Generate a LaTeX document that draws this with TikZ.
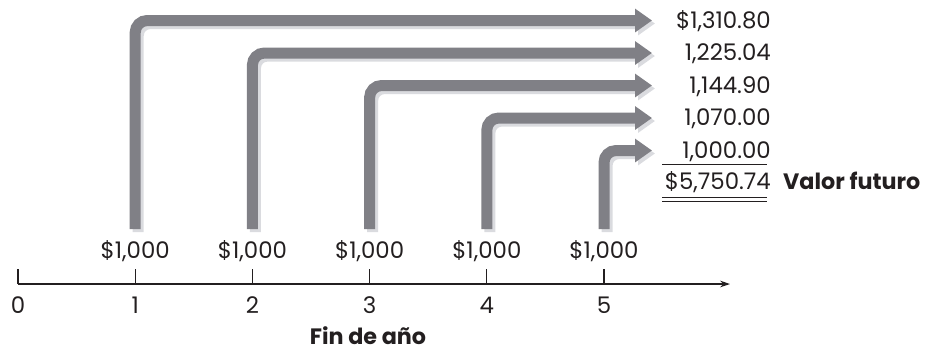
\documentclass[tikz,border=0pt]{standalone}
\usepackage{fontspec}
\setmainfont{Poppins}
\usetikzlibrary{arrows.meta}
\definecolor{flowgray}{RGB}{128,128,134}
\definecolor{shadegray}{RGB}{218,219,223}
\definecolor{ink}{RGB}{35,31,32}

\begin{document}
\begin{tikzpicture}[x=0.03cm,y=-0.03cm,
  txt/.style={inner sep=0pt,text=ink,font=\fontsize{19.5}{23}\selectfont},
  bold/.style={txt,font=\fontsize{19}{22}\selectfont\bfseries},
  flow/.style={draw=flowgray,line width=0.33cm,rounded corners=0.36cm,
    -{Triangle[length=0.51cm,width=0.68cm]}},
  shade/.style={flow,draw=shadegray,transform canvas={xshift=0.09cm,yshift=-0.09cm}},
  axis/.style={draw=ink,line width=0.036cm}]

\useasboundingbox (0,0) rectangle (937,350);

% Draw the time line with its ticks
\draw[axis,-{Stealth[length=0.3cm,width=0.2cm]}] (18,284) coordinate (t0) -- (730,284) coordinate (tend);
\foreach \i in {0,...,5}{
  \pgfmathsetmacro{\x}{18+117.2*\i}
  \coordinate (t\i) at (\x,284);
  \draw[axis] (t\i) -- ++(0,-15);
  \node[txt,anchor=base] (n\i) at (\x,313) {\i};
}
\node[bold,anchor=base] (axislabel) at (368,344) {Fin de año};

% Draw the payments
\foreach \i in {1,...,5}{
  \pgfmathsetmacro{\x}{18+117.2*\i}
  \node[txt,anchor=base] (c\i) at (\x,258) {\$1,000};
  \coordinate (s\i) at (\x,229);
}

% Draw the compounded values
\foreach \i/\val in {1/{\$1,310.80},2/{1,225.04},3/{1,144.90},4/{1,070.00},5/{1,000.00}}{
  \pgfmathsetmacro{\y}{28+32.5*(\i-1)}
  \node[txt,anchor=base east] (v\i) at (771,\y) {\val};
  \coordinate (r\i) at (652,\y-7.5);
}
\node[txt,anchor=base east] (sum) at (771,189) {\$5,750.74};
\node[bold,anchor=base west] (fv) at (783,189) {Valor futuro};

% Draw the totals lines
\draw[ink,line width=0.03cm] (662,164) -- (767,164);
\draw[ink,line width=0.03cm] (662,197) -- (767,197);
\draw[ink,line width=0.03cm] (662,201) -- (767,201);

% Draw the arrows
\foreach \i in {1,...,5}{
  \draw[shade] (s\i) |- (r\i);
  \draw[flow] (s\i) |- (r\i);
}

\end{tikzpicture}
\end{document}
